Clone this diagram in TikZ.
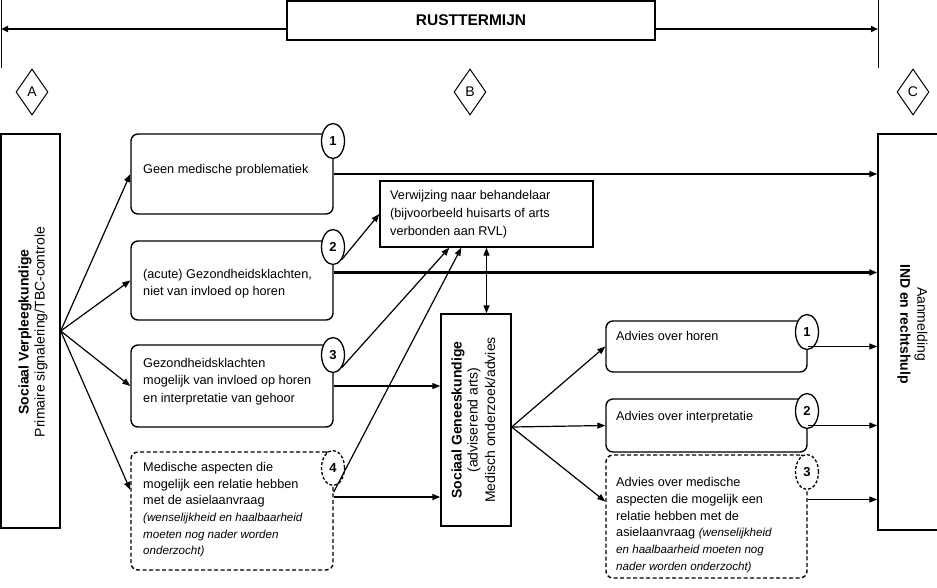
\documentclass[tikz,border=0pt]{standalone}
\usepackage{fontspec}
\setmainfont{Liberation Sans}
\usetikzlibrary{arrows.meta,shapes.geometric,calc}
\newcommand\itsm{\fontsize{11.6}{16.7}\selectfont\itshape}
\begin{document}
\begin{tikzpicture}[x=1pt,y=-1pt,
  rbox/.style={draw,line width=1.4pt,rounded corners=7pt,inner sep=0pt,fill=white},
  dbox/.style={rbox,dash pattern=on 4pt off 2.5pt},
  pbox/.style={draw,line width=1.4pt,inner sep=0pt,fill=white},
  num/.style={draw,ellipse,line width=1.3pt,fill=white,minimum width=23pt,minimum height=35pt,inner sep=0pt,font=\fontsize{13}{15}\selectfont\bfseries},
  dnum/.style={num,dash pattern=on 3pt off 2pt},
  txt/.style={inner sep=0pt,align=left,anchor=north west,font=\fontsize{12.7}{17.5}\selectfont},
  tip/.style={-{Triangle[length=8pt,width=6pt]}},
  arr/.style={line width=1.2pt,tip},
  darr/.style={line width=1.2pt,{Triangle[length=8pt,width=6pt]}-{Triangle[length=8pt,width=6pt]}},
  rotb/.style={inner sep=0pt,font=\fontsize{14}{16}\selectfont\bfseries},
  rotr/.style={inner sep=0pt,font=\fontsize{14}{16}\selectfont},
  dia/.style={draw,diamond,line width=1pt,minimum width=32pt,minimum height=46pt,inner sep=0pt,font=\fontsize{14}{16}\selectfont}
]
\useasboundingbox (0,0) rectangle (937,587);

% top timeline
\coordinate (tl) at (1,29);
\coordinate (tr) at (878,29);
\coordinate (vl0) at (1,0);
\coordinate (vl1) at (1,68);
\coordinate (vr0) at (878,0);
\coordinate (vr1) at (878,68);
\draw[line width=1pt] (vl0) -- (vl1);
\draw[line width=1pt] (vr0) -- (vr1);
\draw[line width=2.8pt,{Triangle[length=7pt,width=6pt]}-{Triangle[length=7pt,width=6pt]}] (tl) -- (tr);
\node[pbox,line width=2pt,minimum width=368pt,minimum height=39pt,font=\fontsize{15.5}{17}\selectfont\bfseries] (rt) at (471,20.5) {RUSTTERMIJN};

% diamonds
\node[dia] (dA) at (32,92) {A};
\node[dia] (dB) at (470,92) {B};
\node[dia] (dC) at (913,92) {C};

% left box
\node[pbox,minimum width=59pt,minimum height=394pt] (sv) at (30.5,331) {};
\node[rotb,rotate=90] (svt1) at (25,332) {Sociaal Verpleegkundige};
\node[rotr,rotate=90] (svt2) at (41,332) {Primaire signalering/TBC-controle};

% right box
\node[pbox,minimum width=64pt,minimum height=396pt] (ind) at (910,332) {};
\node[rotb,rotate=-90] (indt1) at (904,324) {IND en rechtshulp};
\node[rotr,rotate=-90] (indt2) at (921,324) {Aanmelding};

% left column boxes
\node[rbox,minimum width=202pt,minimum height=80pt] (b1) at (232,174) {};
\node[rbox,minimum width=202pt,minimum height=79pt] (b2) at (232,280.5) {};
\node[rbox,minimum width=202pt,minimum height=82pt] (b3) at (232,386) {};
\node[dbox,minimum width=202pt,minimum height=118pt] (b4) at (232,511) {};
\node[txt] (t1) at (143,164) {Geen medische problematiek};
\node[txt] (t2) at (143,269) {(acute) Gezondheidsklachten,\\niet van invloed op horen};
\node[txt] (t3) at (143,358) {Gezondheidsklachten\\mogelijk van invloed op horen\\en interpretatie van gehoor};
\node[txt,font=\fontsize{12.7}{16.7}\selectfont] (t4) at (143,462) {Medische aspecten die\\mogelijk een relatie hebben\\met de asielaanvraag\\{\itsm (wenselijkheid en haalbaarheid}\\{\itsm moeten nog nader worden}\\{\itsm onderzocht)}};

% referral box
\node[pbox,minimum width=213pt,minimum height=66pt] (vw) at (486.5,214) {};
\node[txt,font=\fontsize{12.7}{18}\selectfont] (tvw) at (390,190) {Verwijzing naar behandelaar\\(bijvoorbeeld huisarts of arts\\verbonden aan RVL)};

% social medicine box
\node[pbox,minimum width=70pt,minimum height=212pt] (sg) at (476,420) {};
\node[rotb,rotate=90] (sgt1) at (458,420) {Sociaal Geneeskundige};
\node[rotr,rotate=90] (sgt2) at (474,420) {(adviserend arts)};
\node[rotr,rotate=90] (sgt3) at (490,420) {Medisch onderzoek/advies};

% right column boxes
\node[rbox,minimum width=201pt,minimum height=51pt] (r1) at (706.5,346.5) {};
\node[rbox,minimum width=201pt,minimum height=53pt] (r2) at (706.5,425.5) {};
\node[dbox,minimum width=201pt,minimum height=123pt] (r3) at (706.5,516.5) {};
\node[txt] (tr1) at (616,331) {Advies over horen};
\node[txt] (tr2) at (616,411) {Advies over interpretatie};
\node[txt,font=\fontsize{12.7}{16.8}\selectfont] (tr3) at (616,477) {Advies over medische\\aspecten die mogelijk een\\relatie hebben met de\\asielaanvraag {\itsm (wenselijkheid}\\{\itsm en haalbaarheid moeten nog}\\{\itsm nader worden onderzocht)}};

% number ellipses
\node[num] (c1) at (333,141) {1};
\node[num] (c2) at (333,247) {2};
\node[num] (c3) at (333,355) {3};
\node[dnum] (c4) at (333,468) {4};
\node[num] (d1) at (807,332) {1};
\node[num] (d2) at (807,411) {2};
\node[dnum] (d3) at (807,472) {3};

% fan from left box
\draw[arr] (sv.east) -- (b1.west);
\draw[arr] (sv.east) -- (b2.west);
\draw[arr] (sv.east) -- (b3.west);
\coordinate (b4in) at ($(b4.west)+(0,-21)$);
\draw[arr] (sv.east) -- (b4in);

% left boxes to the right
\draw[arr] (b1.east) -- (ind.west |- b1.east);
\coordinate (b2o) at ($(b2.east)+(0,-8)$);
\draw[line width=3.2pt,tip] (b2o) -- (ind.west |- b2o);
\draw[arr] (b3.east) -- (sg.west |- b3.east);
\coordinate (b4o) at ($(b4.east)+(0,-14)$);
\draw[line width=1.8pt,tip] (b4o) -- (sg.west |- b4o);

% to referral box
\draw[arr] (c2.south east) -- (vw.west);
\coordinate (vwin3) at ($(vw.south west)+(70,0)$);
\coordinate (vwin4) at ($(vw.south west)+(82,0)$);
\draw[arr] (c3.-55) -- (vwin3);
\coordinate (b4up) at ($(b4.east)+(0,-19)$);
\draw[arr] (b4up) -- (vwin4);
\draw[darr] (vw.south) -- (vw.south |- sg.north);

% fan from social medicine box
\coordinate (sgo) at ($(sg.east)+(0,7)$);
\draw[arr] (sgo) -- (r1.west);
\draw[arr] (sgo) -- (r2.west);
\coordinate (r3in) at ($(r3.west)+(0,-15)$);
\draw[arr] (sgo) -- (r3in);

% right boxes to IND
\draw[arr] (r1.east) -- (ind.west |- r1.east);
\draw[arr] (r2.east) -- (ind.west |- r2.east);
\coordinate (r3o) at ($(r3.east)+(0,-17)$);
\draw[arr] (r3o) -- (ind.west |- r3o);
\end{tikzpicture}
\end{document}
